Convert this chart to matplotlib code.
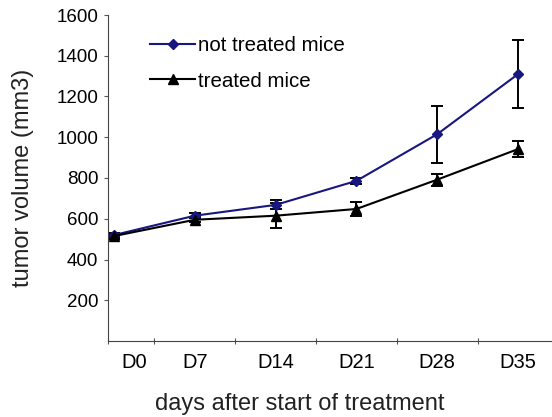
import matplotlib

matplotlib.use("Agg")
import matplotlib.pyplot as plt

plt.rcParams["font.family"] = ["Liberation Sans", "DejaVu Sans"]

days = ["D0", "D7", "D14", "D21", "D28", "D35"]
not_treated = [520, 615, 668, 786, 1015, 1310]
not_treated_err = [10, 12, 22, 16, 140, 168]
treated = [515, 595, 615, 648, 792, 942]
treated_err = [12, 12, 62, 35, 30, 38]

BLUE = "#17177f"

fig = plt.figure(figsize=(5.52, 4.17), dpi=100, facecolor="white")
ax = fig.add_axes([108 / 552, 76 / 417, 1 - 108 / 552, 326 / 417])

x = list(range(len(days)))
ax.errorbar(x, not_treated, yerr=not_treated_err, fmt="none", ecolor="black", elinewidth=1.4, capsize=4, capthick=1.4, zorder=2)
ax.errorbar(x, treated, yerr=treated_err, fmt="none", ecolor="black", elinewidth=1.4, capsize=4, capthick=1.4, zorder=2)
ax.plot(x, not_treated, color=BLUE, lw=1.5, marker="D", ms=5.5, label="not treated mice", zorder=3)
ax.plot(x, treated, color="black", lw=1.5, marker="^", ms=7.5, label="treated mice", zorder=3)

ax.set_ylim(0, 1600)
ax.set_yticks(range(200, 1601, 200))
left, right = -0.074, 5.42
# ticks on category boundaries, labels in between
ax.set_xticks([left] + [i + 0.5 for i in range(5)])
ax.set_xticklabels([])
ax.set_xticks([0.25, 1, 2, 3, 4, 5], minor=True)
ax.set_xticklabels(days, minor=True)
ax.set_xlim(left, right)
ax.tick_params(axis="x", which="minor", length=0, pad=9, labelsize=14.5)
ax.tick_params(axis="x", which="major", length=5, direction="inout", color="#555")
ax.tick_params(axis="y", length=3, direction="out", color="#555", labelsize=13.5, pad=4)

ax.spines[["top", "right"]].set_visible(False)
ax.spines["left"].set_color("#444")
ax.spines["bottom"].set_color("#444")

ax.set_xlabel("days after start of treatment", fontsize=17, color="#222")
ax.set_ylabel("tumor volume (mm3)", fontsize=17, color="#222")
ax.yaxis.set_label_coords(-0.167, 0.5)
ax.xaxis.set_label_coords(0.432, -0.158)

ax.legend(loc="upper left", bbox_to_anchor=(0.095, 0.935), frameon=False, fontsize=14.8,
          borderpad=0, borderaxespad=0, handlelength=2.2, handletextpad=0.15, labelspacing=0.8)

fig.savefig("out.png", dpi=100, facecolor="white")
